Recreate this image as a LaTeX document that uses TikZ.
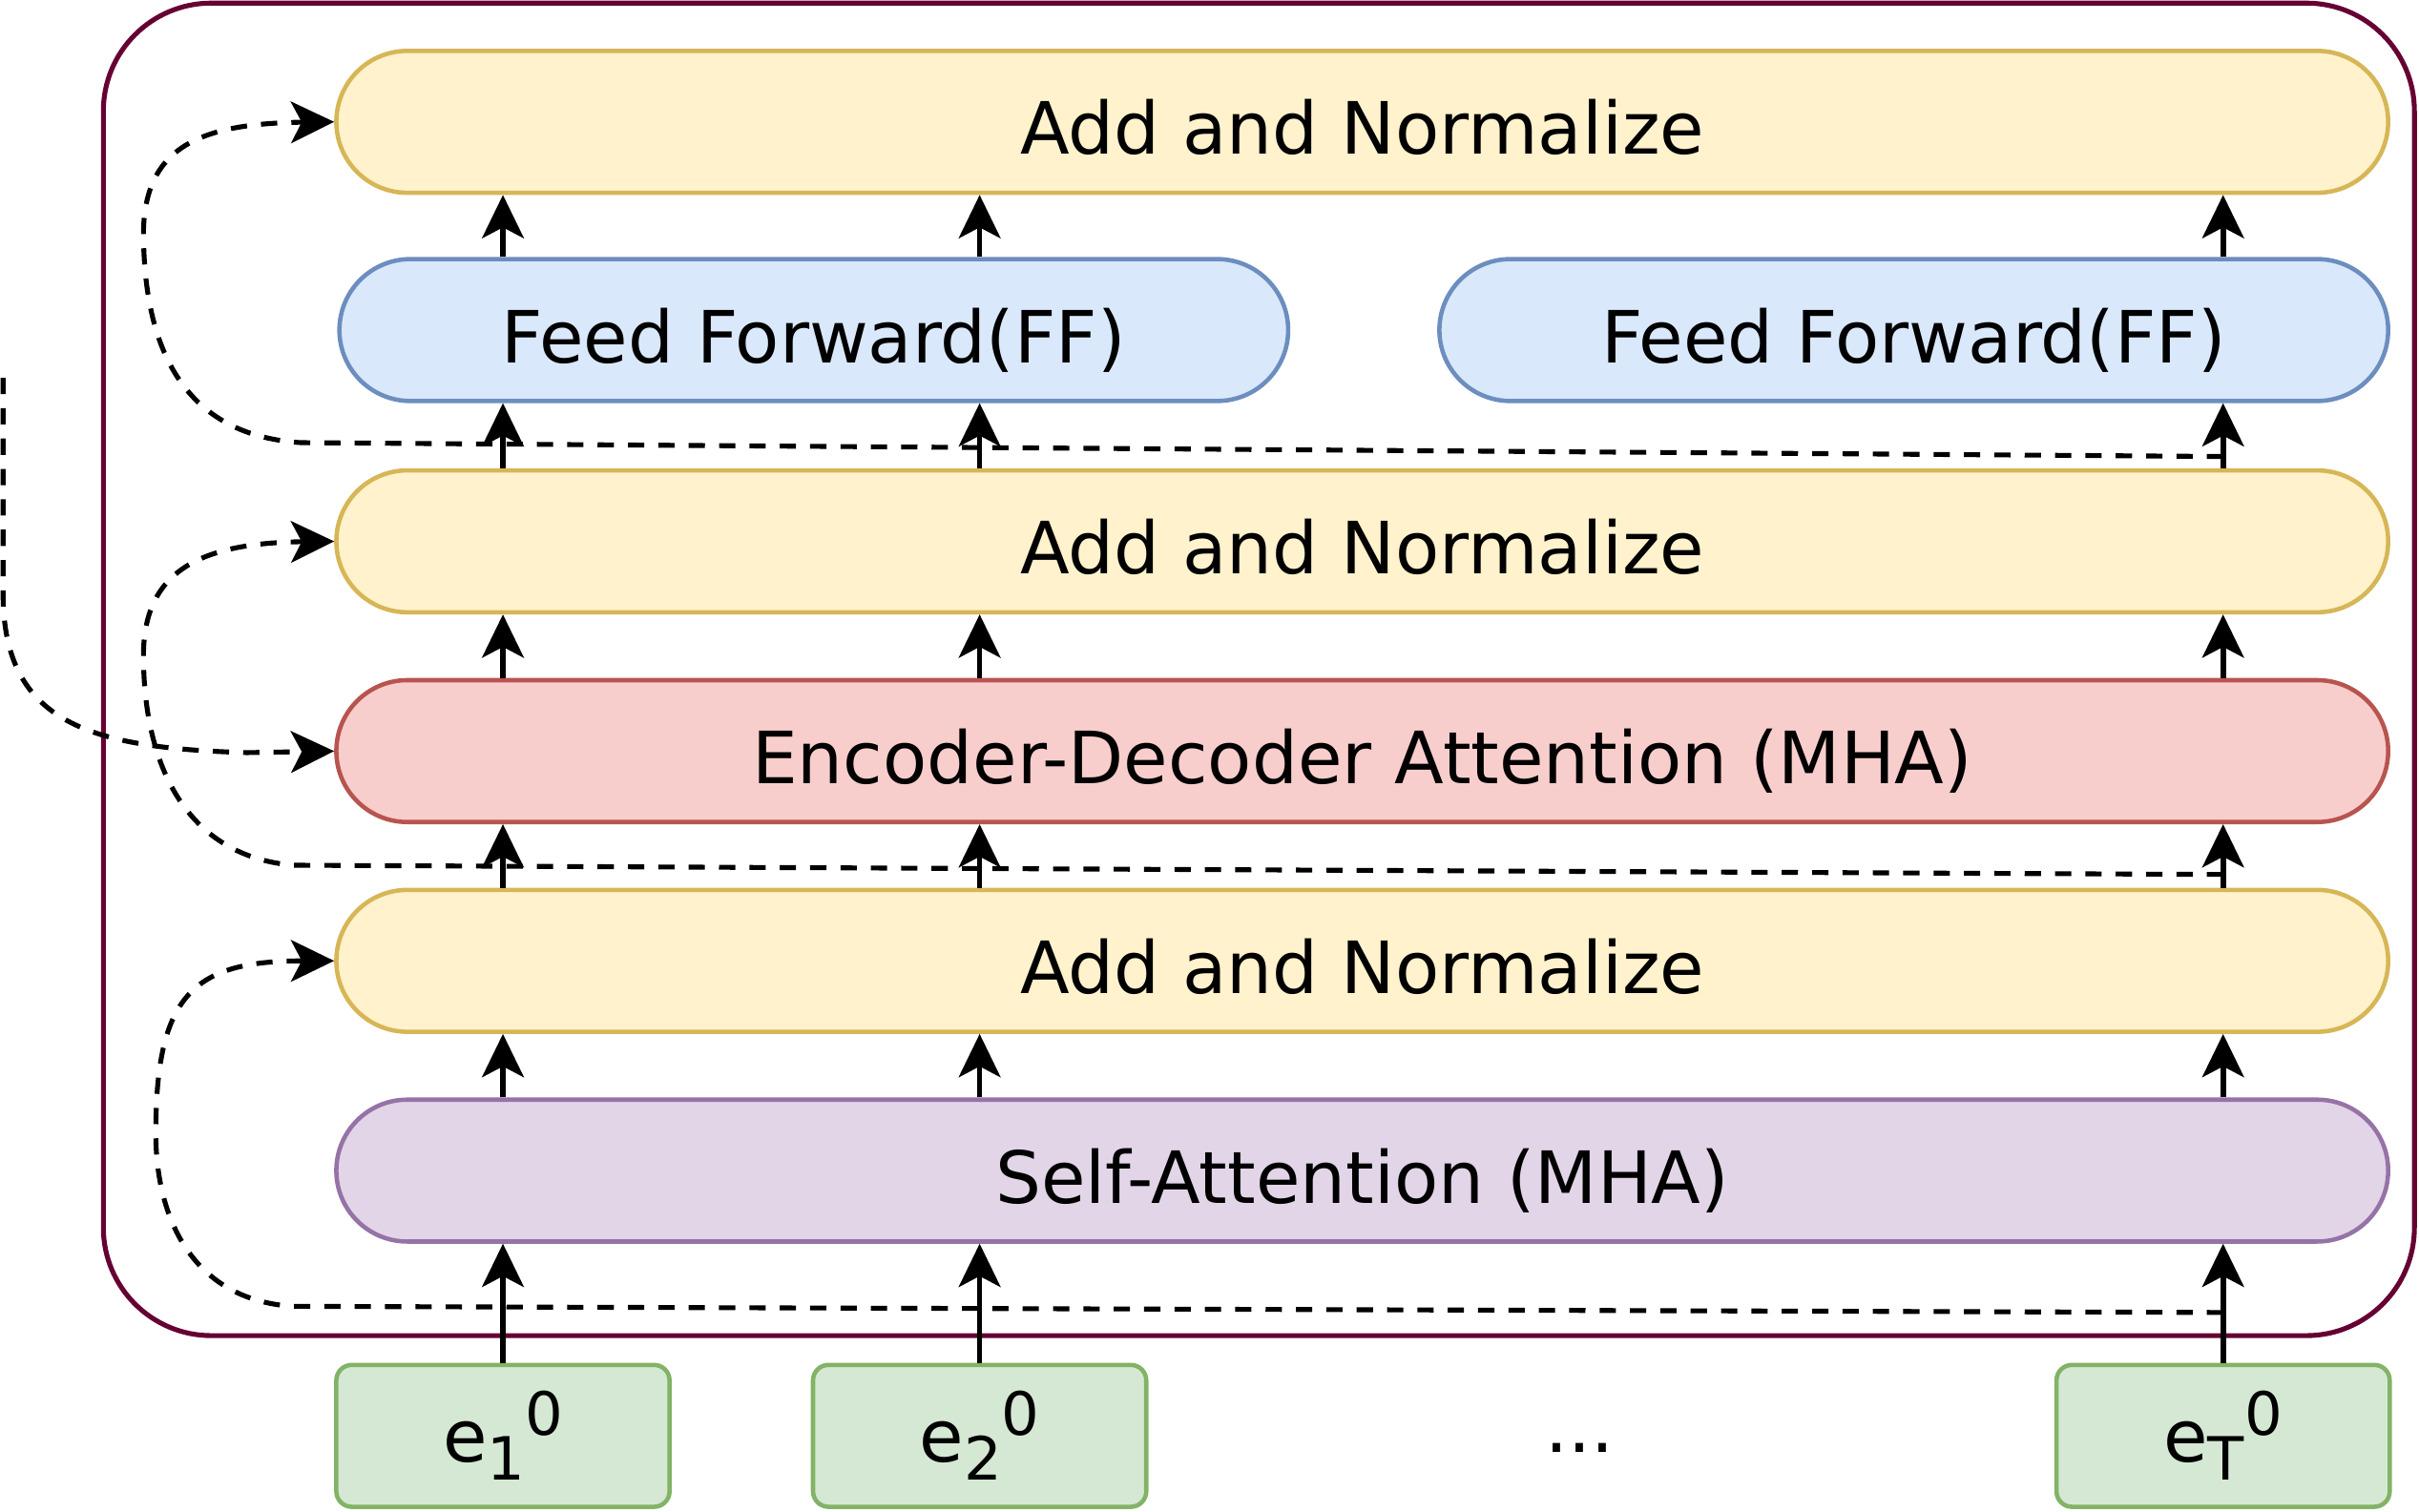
\documentclass[tikz,border=0pt]{standalone}
\usepackage{fontspec}
\setmainfont{DejaVu Sans}
\usetikzlibrary{arrows.meta}
\definecolor{anfill}{HTML}{FFF2CC}\definecolor{anline}{HTML}{D6B656}
\definecolor{fffill}{HTML}{DAE8FC}\definecolor{ffline}{HTML}{6C8EBF}
\definecolor{mhafill}{HTML}{F8CECC}\definecolor{mhaline}{HTML}{B85450}
\definecolor{safill}{HTML}{E1D5E7}\definecolor{saline}{HTML}{9673A6}
\definecolor{embfill}{HTML}{D5E8D4}\definecolor{embline}{HTML}{82B366}
\definecolor{decline}{HTML}{660033}
% e with subscript and superscript 0, side by side
\newcommand{\emb}[1]{e\raisebox{-0.12cm}{\fontsize{11}{13}\selectfont #1}\raisebox{0.17cm}{\fontsize{11}{13}\selectfont 0}}
\begin{document}
\begin{tikzpicture}[>={Stealth[length=2.8mm,width=2.7mm,inset=0.7mm]}, line join=round,
	font=\fontsize{13.3}{16}\selectfont,
	block/.style={draw, line width=0.8pt, minimum height=9.2mm, inner sep=0pt, text height=12pt, text depth=0pt, rounded corners=4.6mm},
	addnorm/.style={block, fill=anfill, draw=anline, minimum width=133mm},
	ffblock/.style={block, fill=fffill, draw=ffline, minimum width=61.5mm},
	mha/.style={block, fill=mhafill, draw=mhaline, minimum width=133mm},
	selfatt/.style={block, fill=safill, draw=saline, minimum width=133mm},
	embed/.style={draw=embline, fill=embfill, line width=0.8pt, minimum width=21.6mm, minimum height=9.2mm, inner sep=0pt, rounded corners=1mm},
	flow/.style={->, line width=1pt},
	resid/.style={->, line width=0.9pt, dash pattern=on 3pt off 2.6pt}]
	\useasboundingbox (0,0) rectangle (15.68,9.80);
	\draw[decline, line width=0.9pt, rounded corners=7mm] (0.67,1.14) rectangle (15.65,9.78);
	
	\node[addnorm] (an3) at (8.83,9.01) {Add and Normalize};
	\node[ffblock] (ff1) at (5.275,7.66) {Feed Forward(FF)};
	\node[ffblock] (ff2) at (12.405,7.66) {Feed Forward(FF)};
	\node[addnorm] (an2) at (8.83,6.29) {Add and Normalize};
	\node[mha] (eda) at (8.83,4.93) {Encoder-Decoder Attention (MHA)};
	\node[addnorm] (an1) at (8.83,3.57) {Add and Normalize};
	\node[selfatt] (sa) at (8.83,2.21) {Self-Attention (MHA)};
	
	\node[embed] (e1) at (3.26,0.49) {\emb{1}};
	\node[embed] (e2) at (6.35,0.49) {\emb{2}};
	\node[embed] (eT) at (14.41,0.49) {\emb{T}};
	\node[anchor=base] (dots) at (10.24,0.38) {...};
	
	\foreach \e in {e1,e2,eT}{
		\draw[flow] (\e.north) -- (\e.north |- sa.south);
		\draw[flow] (\e |- sa.north) -- (\e |- an1.south);
		\draw[flow] (\e |- an1.north) -- (\e |- eda.south);
		\draw[flow] (\e |- eda.north) -- (\e |- an2.south);
	}
	\foreach \e/\f in {e1/ff1, e2/ff1, eT/ff2}{
		\draw[flow] (\e |- an2.north) -- (\e |- \f.south);
		\draw[flow] (\e |- \f.north) -- (\e |- an3.south);
	}
	
	% residual connections
	\coordinate (r1) at (14.41,1.29);
	\coordinate (r2) at (14.41,4.13);
	\coordinate (r3) at (14.41,6.84);
	\coordinate (ext) at (0.02,7.35);
	\draw[resid] (r1) -- (1.9,1.33) .. controls (1.25,1.37) and (1.01,1.9) .. (1.01,2.45)
		.. controls (1.01,3.35) and (1.25,3.57) .. (an1.west);
	\draw[resid] (r2) -- (1.9,4.19) .. controls (1.2,4.25) and (0.93,4.85) .. (0.93,5.55)
		.. controls (0.93,6.1) and (1.3,6.28) .. (an2.west);
	\draw[resid] (r3) -- (1.95,6.93) .. controls (1.15,6.98) and (0.93,7.6) .. (0.93,8.3)
		.. controls (0.94,8.85) and (1.3,9.0) .. (an3.west);
	\draw[resid] (ext) -- (0.02,5.95) .. controls (0.02,5.1) and (0.6,4.95) .. (1.6,4.92) -- (eda.west);
\end{tikzpicture}
\end{document}
